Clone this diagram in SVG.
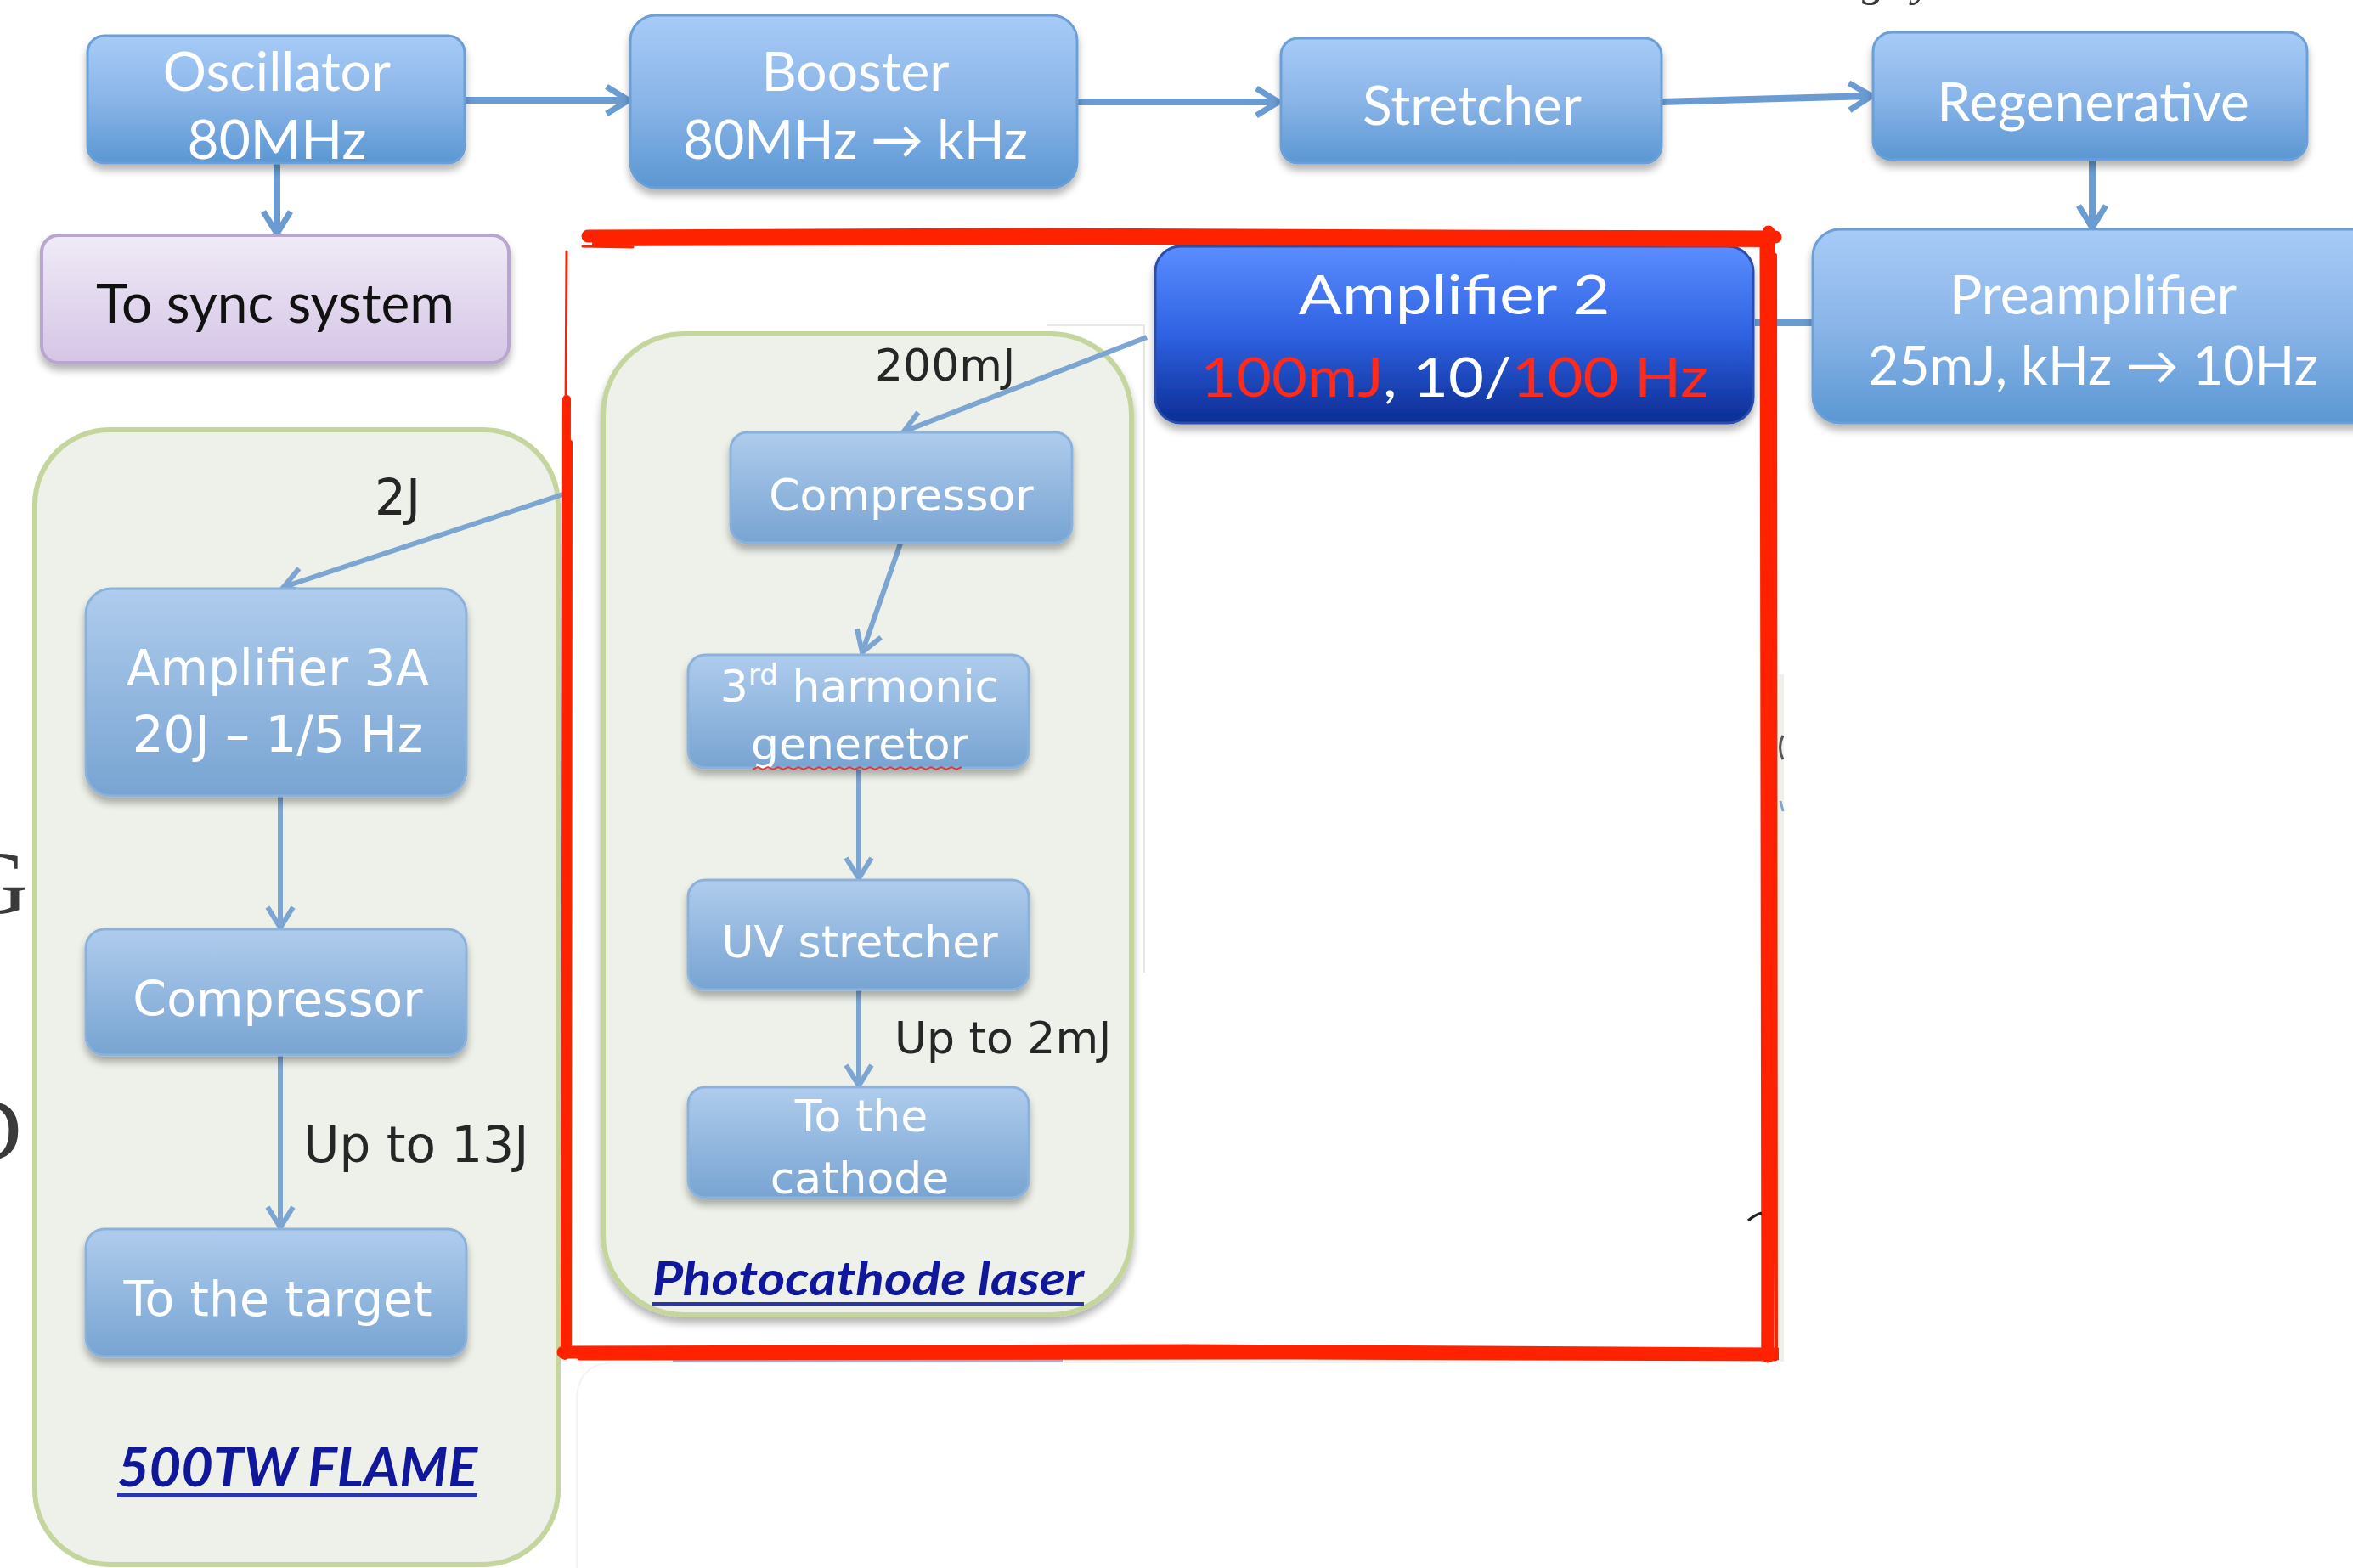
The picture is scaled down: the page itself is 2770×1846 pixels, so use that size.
<svg xmlns="http://www.w3.org/2000/svg" width="2770" height="1846" viewBox="0 0 2770 1846">
  <defs>
    <linearGradient id="gTop" x1="0" y1="0" x2="0" y2="1">
      <stop offset="0" stop-color="#a7cbf7"/>
      <stop offset="0.5" stop-color="#8ab5e8"/>
      <stop offset="1" stop-color="#5b97d3"/>
    </linearGradient>
    <linearGradient id="gIn" x1="0" y1="0" x2="0" y2="1">
      <stop offset="0" stop-color="#afcced"/>
      <stop offset="1" stop-color="#78a4d2"/>
    </linearGradient>
    <linearGradient id="gAmp2" x1="0" y1="0" x2="0" y2="1">
      <stop offset="0" stop-color="#5a8dff"/>
      <stop offset="0.5" stop-color="#2f62e2"/>
      <stop offset="1" stop-color="#0c2d94"/>
    </linearGradient>
    <linearGradient id="gSync" x1="0" y1="0" x2="0" y2="1">
      <stop offset="0" stop-color="#f0ebf7"/>
      <stop offset="1" stop-color="#d5c5e6"/>
    </linearGradient>
    <filter id="shadow" x="-10%" y="-15%" width="120%" height="140%">
      <feGaussianBlur in="SourceAlpha" stdDeviation="5"/>
      <feOffset dy="7"/>
      <feComponentTransfer><feFuncA type="linear" slope="0.3"/></feComponentTransfer>
      <feMerge><feMergeNode/><feMergeNode in="SourceGraphic"/></feMerge>
    </filter>
    <marker id="arrowTop" markerUnits="userSpaceOnUse" markerWidth="40" markerHeight="40" refX="30" refY="18" orient="auto" overflow="visible">
      <path d="M 4 2 L 30 18 L 4 34" fill="none" stroke="#6a9bd1" stroke-width="7"/>
    </marker>
    <marker id="arrowIn" markerUnits="userSpaceOnUse" markerWidth="40" markerHeight="40" refX="28" refY="18" orient="auto" overflow="visible">
      <path d="M 4 3 L 28 18 L 4 33" fill="none" stroke="#7ca5d2" stroke-width="6"/>
    </marker>
    <style>
      .box-top { fill: url(#gTop); stroke: #6c9fd6; stroke-width: 3; filter: url(#shadow); }
      .box-in { fill: url(#gIn); stroke: #8cb1da; stroke-width: 3; filter: url(#shadow); }
      .panel { fill: #eef1ea; stroke: #c4d59e; stroke-width: 6; }
      .t-top { font-family: Lato, "DejaVu Sans", sans-serif; font-size: 64px; fill: #ffffff; text-anchor: middle; }
      .t-in { font-family: "DejaVu Sans", Verdana, sans-serif; fill: #ffffff; text-anchor: middle; }
      .lbl { font-family: "DejaVu Sans", Verdana, sans-serif; fill: #262626; }
      .ttl { font-family: Lato, "DejaVu Sans", sans-serif; font-weight: bold; font-style: italic; fill: #11179a; }
      .conn-top { fill: none; stroke: #6a9bd1; stroke-width: 8; }
      .conn-in { fill: none; stroke: #7ca5d2; stroke-width: 6; }
      .red { fill: none; stroke: #ff2200; stroke-linecap: round; stroke-linejoin: round; }
      .resid { font-family: "Liberation Serif", "Times New Roman", serif; fill: #3a3a3a; }
    </style>
  </defs>

  <rect width="2770" height="1846" fill="#ffffff"/>

  <!-- text fragments running off the canvas edges -->
  <g id="edge-fragments">
    <text class="resid" x="-44" y="1075" font-size="106">G</text>
    <text class="resid" x="-51" y="1366" font-size="106">D</text>
    <text class="resid" x="2192" y="-6" font-size="56" font-style="italic">g</text>
    <text class="resid" x="2252" y="-6" font-size="56" font-style="italic">y</text>
  </g>

  <!-- faint edges of underlying white sheets -->
  <g id="faint-edges" fill="none" stroke-width="2">
    <path d="M 1232 383 L 1347 383 L 1347 1145" stroke="#e7e7e7"/>
    <path d="M 679 1846 L 679 1650 Q 679 1604 725 1604 L 2060 1604" stroke="#f3f3f3"/>
  </g>
  <line x1="792" y1="1602" x2="1251" y2="1602" stroke="#8fb4de" stroke-width="4"/>

  <!-- group panels -->
  <g id="panel-flame">
    <rect class="panel" x="41" y="506" width="616" height="1336" rx="88"/>
  </g>
  <g id="panel-photocathode">
    <rect class="panel" x="710" y="393" width="622" height="1155" rx="95" filter="url(#shadow)"/>
  </g>

  <!-- connectors -->
  <g id="connectors">
    <line class="conn-top" x1="548" y1="118" x2="740" y2="118" marker-end="url(#arrowTop)"/>
    <line class="conn-top" x1="1268" y1="120" x2="1505" y2="120" marker-end="url(#arrowTop)"/>
    <line class="conn-top" x1="1956" y1="120" x2="2203" y2="113" marker-end="url(#arrowTop)"/>
    <line class="conn-top" x1="2463" y1="188" x2="2463" y2="268" marker-end="url(#arrowTop)"/>
    <line class="conn-top" x1="326" y1="192" x2="326" y2="275" marker-end="url(#arrowTop)"/>
    <line class="conn-top" x1="2134" y1="380" x2="2066" y2="380"/>
    <line class="conn-in" x1="1350" y1="397" x2="1064" y2="508" marker-end="url(#arrowIn)"/>
    <line class="conn-in" x1="1060" y1="640" x2="1015" y2="768" marker-end="url(#arrowIn)"/>
    <line class="conn-in" x1="1011" y1="905" x2="1011" y2="1034" marker-end="url(#arrowIn)"/>
    <line class="conn-in" x1="1011" y1="1166" x2="1011" y2="1278" marker-end="url(#arrowIn)"/>
    <line class="conn-in" x1="669" y1="580" x2="334" y2="691" marker-end="url(#arrowIn)"/>
    <line class="conn-in" x1="330" y1="937" x2="330" y2="1092" marker-end="url(#arrowIn)"/>
    <line class="conn-in" x1="330" y1="1242" x2="330" y2="1445" marker-end="url(#arrowIn)"/>
  </g>

  <!-- main chain -->
  <g id="node-oscillator">
    <rect class="box-top" x="103" y="42" width="444" height="150" rx="20"/>
    <text class="t-top" x="326" y="107">Oscillator</text>
    <text class="t-top" x="326" y="187">80MHz</text>
  </g>
  <g id="node-booster">
    <rect class="box-top" x="742" y="18" width="526" height="203" rx="30"/>
    <text class="t-top" x="1007" y="107">Booster</text>
    <text class="t-top" x="1007" y="187" textLength="406" lengthAdjust="spacingAndGlyphs">80MHz → kHz</text>
  </g>
  <g id="node-stretcher">
    <rect class="box-top" x="1508" y="45" width="448" height="147" rx="20"/>
    <text class="t-top" x="1733" y="147">Stretcher</text>
  </g>
  <g id="node-regenerative">
    <rect class="box-top" x="2205" y="38" width="511" height="150" rx="22"/>
    <text class="t-top" x="2464" y="143">Regenerative</text>
  </g>
  <g id="node-preamplifier">
    <rect class="box-top" x="2134" y="270" width="690" height="228" rx="32"/>
    <text class="t-top" x="2464" y="370">Preamplifier</text>
    <text class="t-top" x="2464" y="453" textLength="530" lengthAdjust="spacingAndGlyphs">25mJ, kHz → 10Hz</text>
  </g>
  <g id="node-sync">
    <rect x="49" y="277" width="550" height="150" rx="20" fill="url(#gSync)" stroke="#b9a6cf" stroke-width="4" filter="url(#shadow)"/>
    <text class="t-top" x="324" y="380" font-size="66" style="fill:#111111">To sync system</text>
  </g>
  <g id="node-amplifier2">
    <rect x="1360" y="290" width="704" height="208" rx="30" fill="url(#gAmp2)" stroke="#2a4dab" stroke-width="3" filter="url(#shadow)"/>
    <text class="t-top" x="1712" y="370" font-size="78" textLength="367" lengthAdjust="spacingAndGlyphs">Amplifier 2</text>
    <text class="t-top" x="1712" y="467" font-size="78" textLength="598" lengthAdjust="spacingAndGlyphs"><tspan style="fill:#ff2a1a">100mJ</tspan>, 10/<tspan style="fill:#ff2a1a">100 Hz</tspan></text>
  </g>

  <!-- 500TW FLAME branch -->
  <g id="node-amp3a">
    <rect class="box-in" x="101" y="693" width="448" height="244" rx="30"/>
    <text class="t-in" x="327" y="807" font-size="58">Amplifier 3A</text>
    <text class="t-in" x="327" y="885" font-size="58">20J – 1/5 Hz</text>
  </g>
  <g id="node-flame-compressor">
    <rect class="box-in" x="101" y="1094" width="448" height="148" rx="22"/>
    <text class="t-in" x="327" y="1196" font-size="57">Compressor</text>
  </g>
  <g id="node-target">
    <rect class="box-in" x="101" y="1447" width="448" height="150" rx="22"/>
    <text class="t-in" x="327" y="1549" font-size="57">To the target</text>
  </g>
  <g id="flame-labels">
    <text class="lbl" x="441" y="606" font-size="58">2J</text>
    <text class="lbl" x="357" y="1368" font-size="58">Up to 13J</text>
    <text class="ttl" x="138" y="1750" font-size="64" textLength="424" lengthAdjust="spacingAndGlyphs">500TW FLAME</text>
    <rect x="138" y="1758" width="424" height="5" fill="#2b35a8"/>
  </g>

  <!-- photocathode branch -->
  <g id="node-pc-compressor">
    <rect class="box-in" x="860" y="509" width="402" height="130" rx="20"/>
    <text class="t-in" x="1061" y="601" font-size="52">Compressor</text>
  </g>
  <g id="node-harmonic">
    <rect class="box-in" x="810" y="771" width="401" height="133" rx="20"/>
    <text class="t-in" x="1012" y="826" font-size="52">3<tspan font-size="34" baseline-shift="super">rd</tspan> harmonic</text>
    <text class="t-in" x="1012" y="894" font-size="52">generetor</text>
    <path d="M 886 906 l 6 -3 l 6 3 l 6 -3 l 6 3 l 6 -3 l 6 3 l 6 -3 l 6 3 l 6 -3 l 6 3 l 6 -3 l 6 3 l 6 -3 l 6 3 l 6 -3 l 6 3 l 6 -3 l 6 3 l 6 -3 l 6 3 l 6 -3 l 6 3 l 6 -3 l 6 3 l 6 -3 l 6 3 l 6 -3 l 6 3 l 6 -3 l 6 3 l 6 -3 l 6 3 l 6 -3 l 6 3 l 6 -3 l 6 3 l 6 -3 l 6 3 l 6 -3 l 6 3 l 6 -3" fill="none" stroke="#e23a3a" stroke-width="2"/>
  </g>
  <g id="node-uv-stretcher">
    <rect class="box-in" x="810" y="1036" width="401" height="129" rx="20"/>
    <text class="t-in" x="1012" y="1127" font-size="52">UV stretcher</text>
  </g>
  <g id="node-cathode">
    <rect class="box-in" x="810" y="1280" width="401" height="130" rx="20"/>
    <text class="t-in" x="1014" y="1332" font-size="52">To the</text>
    <text class="t-in" x="1012" y="1405" font-size="52">cathode</text>
  </g>
  <g id="photocathode-labels">
    <text class="lbl" x="1030" y="448" font-size="52">200mJ</text>
    <text class="lbl" x="1053" y="1240" font-size="52">Up to 2mJ</text>
    <text class="ttl" x="768" y="1525" font-size="56" textLength="508" lengthAdjust="spacingAndGlyphs">Photocathode laser</text>
    <rect x="768" y="1533" width="508" height="4" fill="#2b35a8"/>
  </g>

  <!-- hand-drawn highlight frame -->
  <g id="red-frame" class="red">
    <path d="M 692 278 L 1200 276 L 1700 278 L 2090 279" stroke-width="15"/>
    <path d="M 700 287 L 1300 285 L 2086 288" stroke-width="6"/>
    <path d="M 686 290 L 745 291" stroke-width="3"/>
    <path d="M 2082 273 L 2084 900 L 2081 1597" stroke-width="15"/>
    <path d="M 2074 292 L 2076 1590" stroke-width="5"/>
    <path d="M 2090 300 L 2091 1596" stroke-width="4"/>
    <path d="M 663 1592 L 1400 1590 L 2092 1594" stroke-width="15"/>
    <path d="M 682 1599 L 1500 1598 L 2090 1600" stroke-width="5"/>
    <path d="M 667 296 L 666 485" stroke-width="3"/>
    <path d="M 667 470 L 665 1596" stroke-width="10"/>
    <path d="M 672 520 L 671 1588" stroke-width="4"/>
  </g>

  <!-- sliver of a neighbouring panel on the right -->
  <g id="right-sliver">
    <rect x="2094" y="794" width="6" height="809" fill="#eef1ea"/>
    <path d="M 2099 866 Q 2092 880 2099 894" fill="none" stroke="#555555" stroke-width="3"/>
    <line x1="2096" y1="943" x2="2099" y2="955" stroke="#7ca5d2" stroke-width="3"/>
    <path d="M 2058 1437 Q 2066 1430 2074 1428" fill="none" stroke="#222222" stroke-width="3"/>
  </g>
</svg>
